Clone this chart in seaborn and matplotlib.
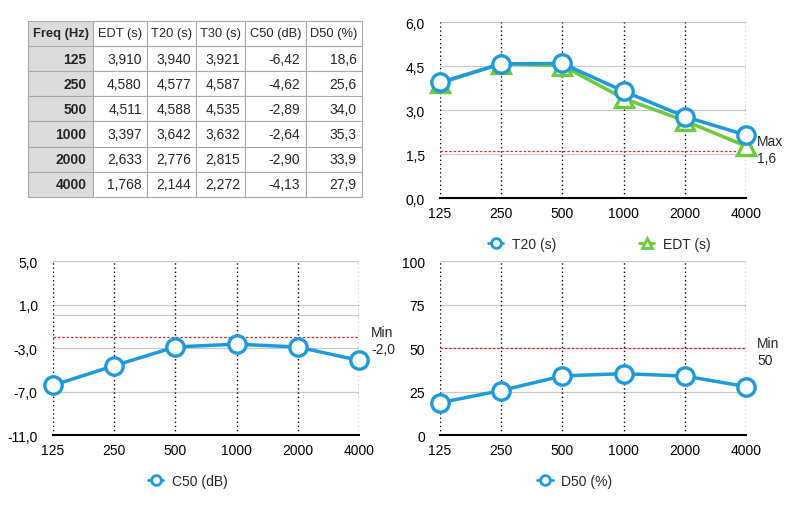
import matplotlib
matplotlib.use('Agg')
import matplotlib.pyplot as plt
import seaborn as sns
from matplotlib.lines import Line2D

freqs = ['125', '250', '500', '1000', '2000', '4000']
edt = [3.910, 4.580, 4.511, 3.397, 2.633, 1.768]
t20 = [3.940, 4.577, 4.588, 3.642, 2.776, 2.144]
t30 = [3.921, 4.587, 4.535, 3.632, 2.815, 2.272]
c50 = [-6.42, -4.62, -2.89, -2.64, -2.90, -4.13]
d50 = [18.6, 25.6, 34.0, 35.3, 33.9, 27.9]

table_header = ['Freq (Hz)', 'EDT (s)', 'T20 (s)', 'T30 (s)', 'C50 (dB)', 'D50 (%)']

edt_max = 1.6
c50_min = -2.0
d50_min = 50

BLUE = '#1c9adb'
GREEN = '#6bcb3c'


def fmt(v, n):
    return f'{v:.{n}f}'.replace('.', ',')


sns.set_theme(style='white')
plt.rcParams['font.family'] = ['Liberation Sans', 'DejaVu Sans']

fig = plt.figure(figsize=(8.03, 5.10), dpi=100)

# tabella
tax = fig.add_axes([0.0349, 0.612, 0.416, 0.345])
tax.axis('off')
cells = []
for i, f in enumerate(freqs):
    cells.append([f, fmt(edt[i], 3), fmt(t20[i], 3), fmt(t30[i], 3), fmt(c50[i], 2), fmt(d50[i], 1)])
colw = [65, 54, 49, 49, 61, 56]
tot = sum(colw)
tbl = tax.table(cellText=cells, colLabels=table_header, loc='center', bbox=[0, 0, 1, 1],
                colWidths=[w / tot for w in colw], cellLoc='right')
tbl.auto_set_font_size(False)
tbl.set_fontsize(10)
for (r, c), cell in tbl.get_celld().items():
    cell.set_edgecolor('#a8a8a8')
    cell.set_linewidth(0.8)
    cell.PAD = 0.1
    if r == 0:
        cell.get_text().set_ha('center')
        cell.get_text().set_fontsize(9.3)
        cell.PAD = 0.02
    if c == 0:
        cell.set_facecolor('#dcdcdc')
        cell.get_text().set_fontweight('bold')


def style_axis(ax, ticks, labels, ylim):
    ax.set_xlim(0, len(freqs) - 1)
    ax.set_ylim(*ylim)
    ax.set_xticks(range(len(freqs)))
    ax.set_xticklabels(freqs)
    ax.set_yticks(ticks)
    ax.set_yticklabels(labels)
    for s in ['top', 'right', 'left']:
        ax.spines[s].set_visible(False)
    ax.spines['bottom'].set_color('black')
    ax.spines['bottom'].set_linewidth(1.5)
    ax.spines['bottom'].set_zorder(5)
    ax.tick_params(axis='both', length=0, labelsize=10, colors='black')
    ax.tick_params(axis='x', pad=6)
    ax.tick_params(axis='y', pad=11)
    for t in ticks[1:]:
        ax.axhline(t, color='#c8c8c8', lw=0.9, zorder=0)
    for i in range(len(freqs)):
        ax.axvline(i, color='black', lw=1, ls=(0, (1, 2)), zorder=1)
    ax.set_xlabel('')
    ax.set_ylabel('')


x = list(range(len(freqs)))
mk = dict(markerfacecolor='white', markeredgewidth=2.4, linewidth=2.5, clip_on=False)

# T20 / EDT
ax1 = fig.add_axes([0.548, 0.6098, 0.381, 0.345])
style_axis(ax1, [0, 1.5, 3.0, 4.5, 6.0], ['0,0', '1,5', '3,0', '4,5', '6,0'], (0, 6))
ax1.axhline(edt_max, color='#d42a2a', lw=0.9, ls=(0, (2, 1.5)), zorder=2)
sns.lineplot(x=x, y=edt, ax=ax1, color=GREEN, marker='^', markeredgecolor=GREEN, markersize=13,
             zorder=3, **mk)
sns.lineplot(x=x, y=t20, ax=ax1, color=BLUE, marker='o', markeredgecolor=BLUE, markersize=12.5,
             zorder=4, **mk)
ax1.text(1.037, (edt_max + 0.05) / 6, 'Max\n' + fmt(edt_max, 1), transform=ax1.transAxes,
         fontsize=10, va='center', ha='left', linespacing=1.25)
h1 = [Line2D([], [], color=BLUE, marker='o', markerfacecolor='white', markeredgewidth=2, markersize=7, lw=2),
      Line2D([], [], color=GREEN, marker='^', markerfacecolor='white', markeredgewidth=2, markersize=7, lw=2)]
ax1.legend(h1, ['T20 (s)', 'EDT (s)'], loc='upper center', bbox_to_anchor=(0.52, -0.15), ncol=2,
           frameon=False, fontsize=10, handlelength=1.1, columnspacing=6, handletextpad=0.6)

# C50
ax2 = fig.add_axes([0.066, 0.145, 0.381, 0.341])
style_axis(ax2, [-11, -7, -3, 1, 5], ['-11,0', '-7,0', '-3,0', '1,0', '5,0'], (-11, 5))
ax2.axhline(0, color='#c8c8c8', lw=0.9, zorder=0)
ax2.axhline(c50_min, color='#d42a2a', lw=0.9, ls=(0, (2, 1.5)), zorder=2)
sns.lineplot(x=x, y=c50, ax=ax2, color=BLUE, marker='o', markeredgecolor=BLUE, markersize=12.5,
             zorder=4, **mk)
ax2.text(1.04, (c50_min + 11 - 0.3) / 16, 'Min\n' + fmt(c50_min, 1), transform=ax2.transAxes,
         fontsize=10, va='center', ha='left', linespacing=1.25)
h2 = [Line2D([], [], color=BLUE, marker='o', markerfacecolor='white', markeredgewidth=2, markersize=7, lw=2)]
ax2.legend(h2, ['C50 (dB)'], loc='upper center', bbox_to_anchor=(0.44, -0.15), frameon=False,
           fontsize=10, handlelength=1.1, handletextpad=0.6)

# D50
ax3 = fig.add_axes([0.548, 0.145, 0.381, 0.341])
style_axis(ax3, [0, 25, 50, 75, 100], ['0', '25', '50', '75', '100'], (0, 100))
ax3.axhline(d50_min, color='#d42a2a', lw=0.9, ls=(0, (2, 1.5)), zorder=2)
sns.lineplot(x=x, y=d50, ax=ax3, color=BLUE, marker='o', markeredgecolor=BLUE, markersize=12.5,
             zorder=4, **mk)
ax3.text(1.037, (d50_min - 2) / 100, 'Min\n' + str(d50_min), transform=ax3.transAxes,
         fontsize=10, va='center', ha='left', linespacing=1.25)
ax3.legend(h2, ['D50 (%)'], loc='upper center', bbox_to_anchor=(0.44, -0.15), frameon=False,
           fontsize=10, handlelength=1.1, handletextpad=0.6)

fig.savefig('out.png', dpi=100, facecolor='white')
